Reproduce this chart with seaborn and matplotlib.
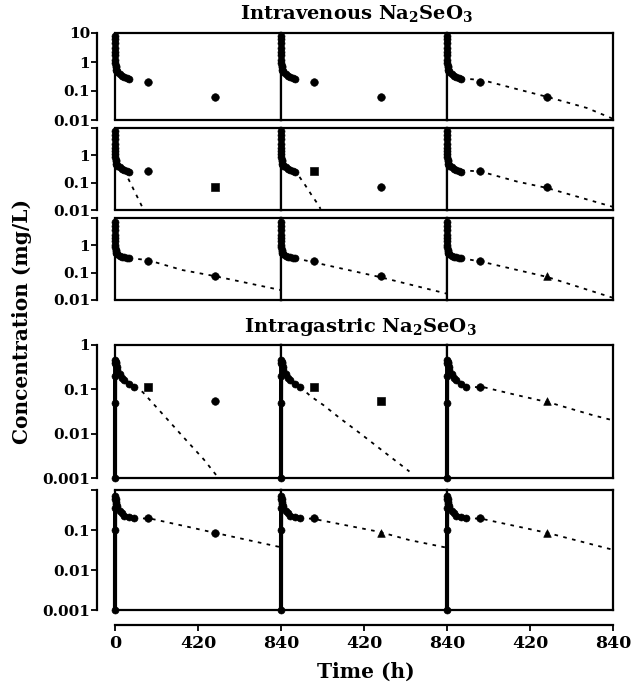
import matplotlib
matplotlib.use("Agg")
import matplotlib.pyplot as plt
import seaborn as sns

# observation times (h)
LATE_T = [168, 504]
EARLY_T_IV = [0.08, 0.17, 0.25, 0.5, 0.75, 1, 1.5, 2, 3, 4, 6, 8, 12, 24, 36, 48, 60, 72]
EARLY_T_IG = [0, 0.25, 0.5, 1, 2, 3, 4, 6, 8, 12, 24, 36, 48, 72, 96]

# observed concentrations (mg/L), one row per subject
ROW1_EARLY_C = [8.0, 6.0, 4.5, 3.0, 2.2, 1.7, 1.2, 0.95, 0.75, 0.65, 0.55, 0.5, 0.45, 0.38, 0.34, 0.31, 0.28, 0.26]
ROW2_EARLY_C = [7.5, 5.5, 4.0, 2.6, 1.9, 1.5, 1.1, 0.9, 0.7, 0.6, 0.5, 0.46, 0.42, 0.36, 0.32, 0.29, 0.27, 0.25]
ROW3_EARLY_C = [7.0, 5.0, 3.6, 2.4, 1.8, 1.4, 1.0, 0.85, 0.7, 0.6, 0.53, 0.5, 0.47, 0.42, 0.39, 0.37, 0.35, 0.34]
ROW4_EARLY_C = [0.001, 0.05, 0.2, 0.4, 0.45, 0.42, 0.4, 0.35, 0.32, 0.28, 0.22, 0.18, 0.16, 0.13, 0.115]
ROW5_EARLY_C = [0.001, 0.1, 0.35, 0.6, 0.7, 0.6, 0.5, 0.45, 0.4, 0.36, 0.3, 0.26, 0.23, 0.21, 0.2]

ROW1_LATE_C = [0.21, 0.063]
ROW2_LATE_C = [0.27, 0.067]
ROW3_LATE_C = [0.27, 0.073]
ROW4_LATE_C = [0.115, 0.055]
ROW5_LATE_C = [0.2, 0.086]

# fitted curves, three models per subject (columns)
ROW1_FIT_T = [[], [], [72, 177, 334, 506, 708, 840]]
ROW1_FIT_C = [[], [], [0.27, 0.24, 0.126, 0.063, 0.026, 0.011]]
ROW2_FIT_T = [[48, 65, 90, 115, 140, 152], [60, 87, 123, 155, 190, 200], [72, 167, 354, 506, 840]]
ROW2_FIT_C = [[0.28, 0.15, 0.065, 0.028, 0.012, 0.0095], [0.27, 0.19, 0.08, 0.035, 0.015, 0.011],
              [0.28, 0.26, 0.11, 0.064, 0.013]]
ROW3_FIT_T = [[72, 165, 340, 500, 840], [72, 159, 497, 840], [72, 177, 506, 840]]
ROW3_FIT_C = [[0.34, 0.29, 0.125, 0.076, 0.023], [0.34, 0.245, 0.07, 0.017], [0.34, 0.25, 0.07, 0.012]]
ROW4_FIT_T = [[96, 140, 250, 350, 450, 520], [96, 150, 215, 300, 400, 500, 650], [96, 192, 354, 521, 739, 840]]
ROW4_FIT_C = [[0.115, 0.087, 0.025, 0.008, 0.0026, 0.00105], [0.115, 0.07, 0.044, 0.022, 0.0102, 0.0046, 0.0014],
              [0.115, 0.11, 0.074, 0.05, 0.026, 0.02]]
ROW5_FIT_T = [[96, 185, 350, 510, 840], [96, 164, 497, 650, 840], [96, 177, 511, 840]]
ROW5_FIT_C = [[0.2, 0.19, 0.126, 0.084, 0.037], [0.2, 0.19, 0.09, 0.056, 0.036], [0.2, 0.19, 0.084, 0.032]]

X_TICK_LABELS = ["0", "420", "840", "420", "840", "420", "840"]

# markers used for the two late samples in every panel
LATE_MARKERS = [
    [("o", "o"), ("o", "o"), ("o", "o")],
    [("o", "s"), ("s", "o"), ("o", "o")],
    [("o", "o"), ("o", "o"), ("o", "^")],
    [("s", "o"), ("s", "s"), ("o", "^")],
    [("o", "o"), ("o", "^"), ("o", "^")],
]

ROWS = [
    (EARLY_T_IV, ROW1_EARLY_C, ROW1_LATE_C, ROW1_FIT_T, ROW1_FIT_C),
    (EARLY_T_IV, ROW2_EARLY_C, ROW2_LATE_C, ROW2_FIT_T, ROW2_FIT_C),
    (EARLY_T_IV, ROW3_EARLY_C, ROW3_LATE_C, ROW3_FIT_T, ROW3_FIT_C),
    (EARLY_T_IG, ROW4_EARLY_C, ROW4_LATE_C, ROW4_FIT_T, ROW4_FIT_C),
    (EARLY_T_IG, ROW5_EARLY_C, ROW5_LATE_C, ROW5_FIT_T, ROW5_FIT_C),
]

W, H = 641, 692
COL_LEFT = [115, 281, 447]
COL_W = 166
ROW_PX = [(33, 120), (128, 210), (218, 300), (345, 478), (490, 610)]
ROW_YLIM = [(0.01, 10), (0.01, 10), (0.01, 10), (0.001, 1), (0.001, 1)]
ROW_LABELED = [
    {10: "10", 1: "1", 0.1: "0.1", 0.01: "0.01"},
    {1: "1", 0.1: "0.1", 0.01: "0.01"},
    {1: "1", 0.1: "0.1", 0.01: "0.01"},
    {1: "1", 0.1: "0.1", 0.01: "0.01", 0.001: "0.001"},
    {0.1: "0.1", 0.01: "0.01", 0.001: "0.001"},
]

sns.set_theme(style="white")
plt.rcParams["font.family"] = ["DejaVu Serif"]
plt.rcParams["font.weight"] = "bold"
plt.rcParams["mathtext.fontset"] = "dejavuserif"
for key in ["text.color", "axes.labelcolor", "xtick.color", "ytick.color", "axes.edgecolor"]:
    plt.rcParams[key] = "black"

fig = plt.figure(figsize=(W / 100, H / 100), dpi=100)

for r, (early_t, early_c, late_c, fit_t, fit_c) in enumerate(ROWS):
    top, bot = ROW_PX[r]
    for c in range(3):
        ax = fig.add_axes([COL_LEFT[c] / W, 1 - bot / H, COL_W / W, (bot - top) / H])
        ax.set_yscale("log")
        ax.set_xlim(0, 840)
        ax.set_ylim(*ROW_YLIM[r])
        for sp in ax.spines.values():
            sp.set_color("black")
            sp.set_linewidth(1.6)

        # early samples: dense cluster drawn as thick line with points
        sns.lineplot(x=early_t, y=early_c, ax=ax, color="black", lw=3, clip_on=False)
        sns.scatterplot(x=early_t, y=early_c, ax=ax, color="black", s=26,
                        edgecolor="black", clip_on=False)

        if fit_t[c]:
            sns.lineplot(x=fit_t[c], y=fit_c[c], ax=ax, color="black", lw=1.3,
                         linestyle=(0, (2, 3)))

        for i in range(2):
            sns.scatterplot(x=[LATE_T[i]], y=[late_c[i]], ax=ax, color="black",
                            marker=LATE_MARKERS[r][c][i], s=30, edgecolor="black")

        ax.set_xticks([])
        ax.minorticks_off()
        if c == 0:
            ax.spines["left"].set_position(("outward", 13))
            ax.plot([0, 0], [0, 1], transform=ax.transAxes, color="black", lw=1.6,
                    clip_on=False)
            lo, hi = ROW_YLIM[r]
            ticks = [t for t in [0.001, 0.01, 0.1, 1, 10] if lo <= t <= hi]
            ax.set_yticks(ticks)
            ax.set_yticklabels([ROW_LABELED[r].get(t, "") for t in ticks],
                               fontsize=11, fontweight="bold")
            ax.tick_params(axis="y", direction="out", length=4, width=1.3,
                           left=True, pad=1)
            ax.minorticks_off()
        else:
            ax.set_yticks([])

# separate time axis below the panels
axx = fig.add_axes([COL_LEFT[0] / W, 1 - 625 / H, 3 * COL_W / W, 0.0001])
axx.set_xlim(0, 2520)
axx.set_xticks([0, 420, 840, 1260, 1680, 2100, 2520])
axx.set_xticklabels(X_TICK_LABELS, fontsize=12.5, fontweight="bold")
axx.set_yticks([])
for side in ["left", "right", "top"]:
    axx.spines[side].set_visible(False)
axx.spines["bottom"].set_linewidth(1.6)
axx.spines["bottom"].set_color("black")
axx.tick_params(axis="x", direction="out", length=4, width=1.3, bottom=True, pad=3)

fig.text(357 / W, 1 - 13 / H, r"Intravenous Na$_\mathbf{2}$SeO$_\mathbf{3}$",
         ha="center", va="center", fontsize=14, fontweight="bold")
fig.text(360 / W, 1 - 327 / H, r"Intragastric Na$_\mathbf{2}$SeO$_\mathbf{3}$",
         ha="center", va="center", fontsize=14, fontweight="bold")
fig.text(22 / W, 1 - 322 / H, "Concentration (mg/L)", rotation=90,
         ha="center", va="center", fontsize=14.5, fontweight="bold")
fig.text(366 / W, 1 - 672 / H, "Time (h)", ha="center", va="center",
         fontsize=14.5, fontweight="bold")

fig.savefig("out.png", dpi=100)
